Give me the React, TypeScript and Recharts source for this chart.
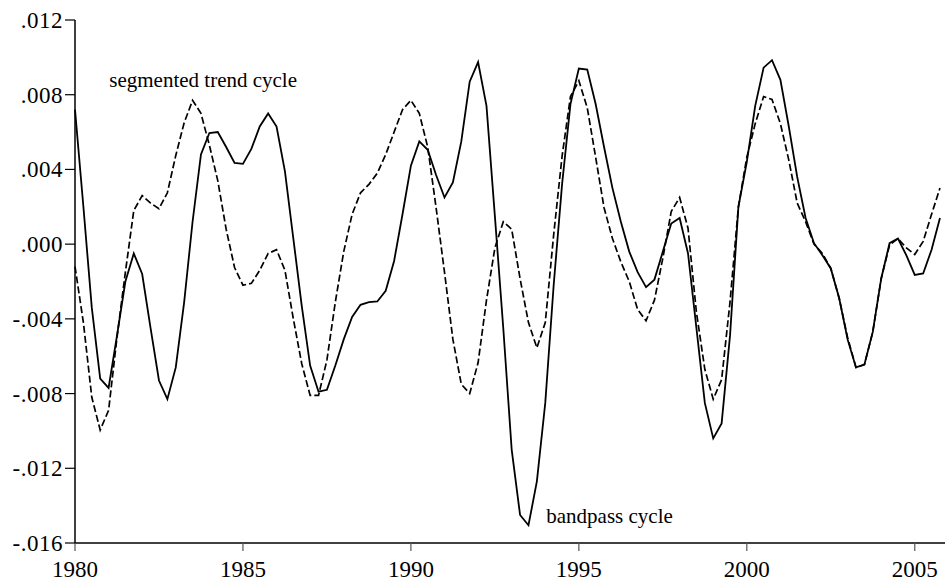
import React from "react";
import { LineChart, Line, XAxis, YAxis, ReferenceDot } from "recharts";

const quarters: number[] = [
  1980, 1980.25, 1980.5, 1980.75, 1981, 1981.25, 1981.5, 1981.75,
  1982, 1982.25, 1982.5, 1982.75, 1983, 1983.25, 1983.5, 1983.75,
  1984, 1984.25, 1984.5, 1984.75, 1985, 1985.25, 1985.5, 1985.75,
  1986, 1986.25, 1986.5, 1986.75, 1987, 1987.25, 1987.5, 1987.75,
  1988, 1988.25, 1988.5, 1988.75, 1989, 1989.25, 1989.5, 1989.75,
  1990, 1990.25, 1990.5, 1990.75, 1991, 1991.25, 1991.5, 1991.75,
  1992, 1992.25, 1992.5, 1992.75, 1993, 1993.25, 1993.5, 1993.75,
  1994, 1994.25, 1994.5, 1994.75, 1995, 1995.25, 1995.5, 1995.75,
  1996, 1996.25, 1996.5, 1996.75, 1997, 1997.25, 1997.5, 1997.75,
  1998, 1998.25, 1998.5, 1998.75, 1999, 1999.25, 1999.5, 1999.75,
  2000, 2000.25, 2000.5, 2000.75, 2001, 2001.25, 2001.5, 2001.75,
  2002, 2002.25, 2002.5, 2002.75, 2003, 2003.25, 2003.5, 2003.75,
  2004, 2004.25, 2004.5, 2004.75, 2005, 2005.25, 2005.5, 2005.75,
];

const bandpassCycle: number[] = [
  0.0072, 0.002, -0.0034, -0.0072, -0.0077, -0.0049, -0.002, -0.0005,
  -0.0016, -0.0045, -0.0073, -0.0083, -0.0066, -0.0031, 0.0012, 0.0048,
  0.00595, 0.006, 0.0052, 0.00435, 0.0043, 0.0051, 0.0063, 0.007,
  0.0063, 0.0039, 0.0003, -0.0033, -0.0065, -0.0079, -0.0078, -0.0065,
  -0.0051, -0.0039, -0.00325, -0.0031, -0.00307, -0.0025, -0.0009, 0.0016,
  0.0042, 0.0055, 0.00505, 0.0037, 0.0025, 0.0033, 0.0055, 0.0087,
  0.00975, 0.0074, 0.0015, -0.0045, -0.011, -0.0145, -0.01505, -0.0127,
  -0.0085, -0.0022, 0.0032, 0.0075, 0.0094, 0.00935, 0.0075, 0.0052,
  0.003, 0.0012, -0.0004, -0.0015, -0.0023, -0.0019, -0.0004, 0.0011,
  0.0014, -0.0005, -0.0045, -0.0085, -0.0104, -0.0096, -0.0049, 0.002,
  0.0044, 0.0074, 0.00945, 0.00985, 0.0088, 0.0063, 0.0036, 0.0014,
  0.00005, -0.0006, -0.0013, -0.0029, -0.0051, -0.0066, -0.00645, -0.0047,
  -0.00185, 0.00005, 0.0003, -0.0006, -0.00165, -0.00157, -0.0003, 0.0014,
];

const segmentedTrendCycle: number[] = [
  -0.0012, -0.0042, -0.0082, -0.00995, -0.0089, -0.005, -0.0015, 0.0018,
  0.0026, 0.0022, 0.0019, 0.00275, 0.00475, 0.0065, 0.0077, 0.007,
  0.0053, 0.0034, 0.0008, -0.00125, -0.0022, -0.0021, -0.0014, -0.0005,
  -0.0003, -0.0014, -0.004, -0.0064, -0.0081, -0.0081, -0.0062, -0.0031,
  -0.0004, 0.0016, 0.00275, 0.0032, 0.0038, 0.0048, 0.006, 0.0072,
  0.0077, 0.007, 0.0052, 0.00195, -0.0015, -0.0051, -0.0075, -0.008,
  -0.00635, -0.003, -0.0002, 0.0012, 0.0008, -0.00185, -0.0042, -0.00555,
  -0.0042, 0.0005, 0.0047, 0.0079, 0.00875, 0.0073, 0.00465, 0.00195,
  0.0003, -0.00095, -0.002, -0.0035, -0.0041, -0.003, -0.00075, 0.00175,
  0.0025, 0.00085, -0.00365, -0.0067, -0.0083, -0.00725, -0.0031, 0.002,
  0.00465, 0.00645, 0.0079, 0.00775, 0.00645, 0.0045, 0.0022, 0.0012,
  0.0, -0.0005, -0.0013, -0.0029, -0.005, -0.0066, -0.00645, -0.0047,
  -0.00185, -0.00005, 0.0003, -0.0002, -0.00055, 0.00015, 0.0016, 0.003,
];

const xTicks: number[] = [1980, 1985, 1990, 1995, 2000, 2005];
const yTicks: number[] = [-0.016, -0.012, -0.008, -0.004, 0, 0.004, 0.008, 0.012];
const yTickLabels: string[] = ["-.016", "-.012", "-.008", "-.004", ".000", ".004", ".008", ".012"];

const data = quarters.map((q, i) => ({
  year: q,
  bandpass: bandpassCycle[i],
  segmented: segmentedTrendCycle[i],
}));

const FONT = "'Liberation Serif', 'Times New Roman', 'DejaVu Serif', serif";

const formatY = (v: number) => {
  const idx = yTicks.findIndex((t) => Math.abs(t - v) < 1e-9);
  return idx >= 0 ? yTickLabels[idx] : String(v);
};

const YTick = (props: any) => {
  const { x, y, payload } = props;
  return (
    <text
      x={x}
      y={y}
      dy={8}
      textAnchor="end"
      fill="#000"
      style={{ fontFamily: FONT, fontSize: 23, letterSpacing: 0.5 }}
    >
      {formatY(payload.value)}
    </text>
  );
};

const XTick = (props: any) => {
  const { x, y, payload } = props;
  return (
    <text
      x={x}
      y={y}
      dy={18}
      textAnchor="middle"
      fill="#000"
      style={{ fontFamily: FONT, fontSize: 23 }}
    >
      {String(payload.value)}
    </text>
  );
};

const makeLabel = (text: string) => (props: any) => {
  const vb = props.viewBox || {};
  return (
    <text
      x={vb.x}
      y={vb.y}
      textAnchor="start"
      fill="#000"
      style={{ fontFamily: FONT, fontSize: 21 }}
    >
      {text}
    </text>
  );
};

export default function App() {
  return (
    <div
      style={{
        position: "absolute",
        left: 0,
        top: 0,
        width: 945,
        height: 587,
        background: "#fff",
      }}
    >
      <LineChart
        width={945}
        height={587}
        data={data}
        margin={{ top: 20, right: 0, bottom: 0, left: 0 }}
      >
        <XAxis
          dataKey="year"
          type="number"
          domain={[1980, 2005.9]}
          ticks={xTicks}
          height={44}
          tickSize={8}
          tickMargin={8}
          axisLine={{ stroke: "#000", strokeWidth: 1.5 }}
          tickLine={{ stroke: "#555", strokeWidth: 1.2 }}
          tick={<XTick />}
          interval={0}
        />
        <YAxis
          type="number"
          domain={[-0.016, 0.012]}
          ticks={yTicks}
          width={75}
          tickSize={10}
          tickMargin={2}
          axisLine={{ stroke: "#000", strokeWidth: 1.5 }}
          tickLine={{ stroke: "#000", strokeWidth: 1.2 }}
          tick={<YTick />}
          interval={0}
        />
        <Line
          type="linear"
          dataKey="segmented"
          stroke="#000"
          strokeWidth={1.7}
          strokeDasharray="7 3"
          dot={false}
          isAnimationActive={false}
        />
        <Line
          type="linear"
          dataKey="bandpass"
          stroke="#000"
          strokeWidth={1.8}
          dot={false}
          isAnimationActive={false}
        />
        <ReferenceDot
          x={1981.02}
          y={0.0084}
          r={0}
          fill="none"
          stroke="none"
          label={makeLabel("segmented trend cycle")}
        />
        <ReferenceDot
          x={1994.03}
          y={-0.01494}
          r={0}
          fill="none"
          stroke="none"
          label={makeLabel("bandpass cycle")}
        />
      </LineChart>
    </div>
  );
}
